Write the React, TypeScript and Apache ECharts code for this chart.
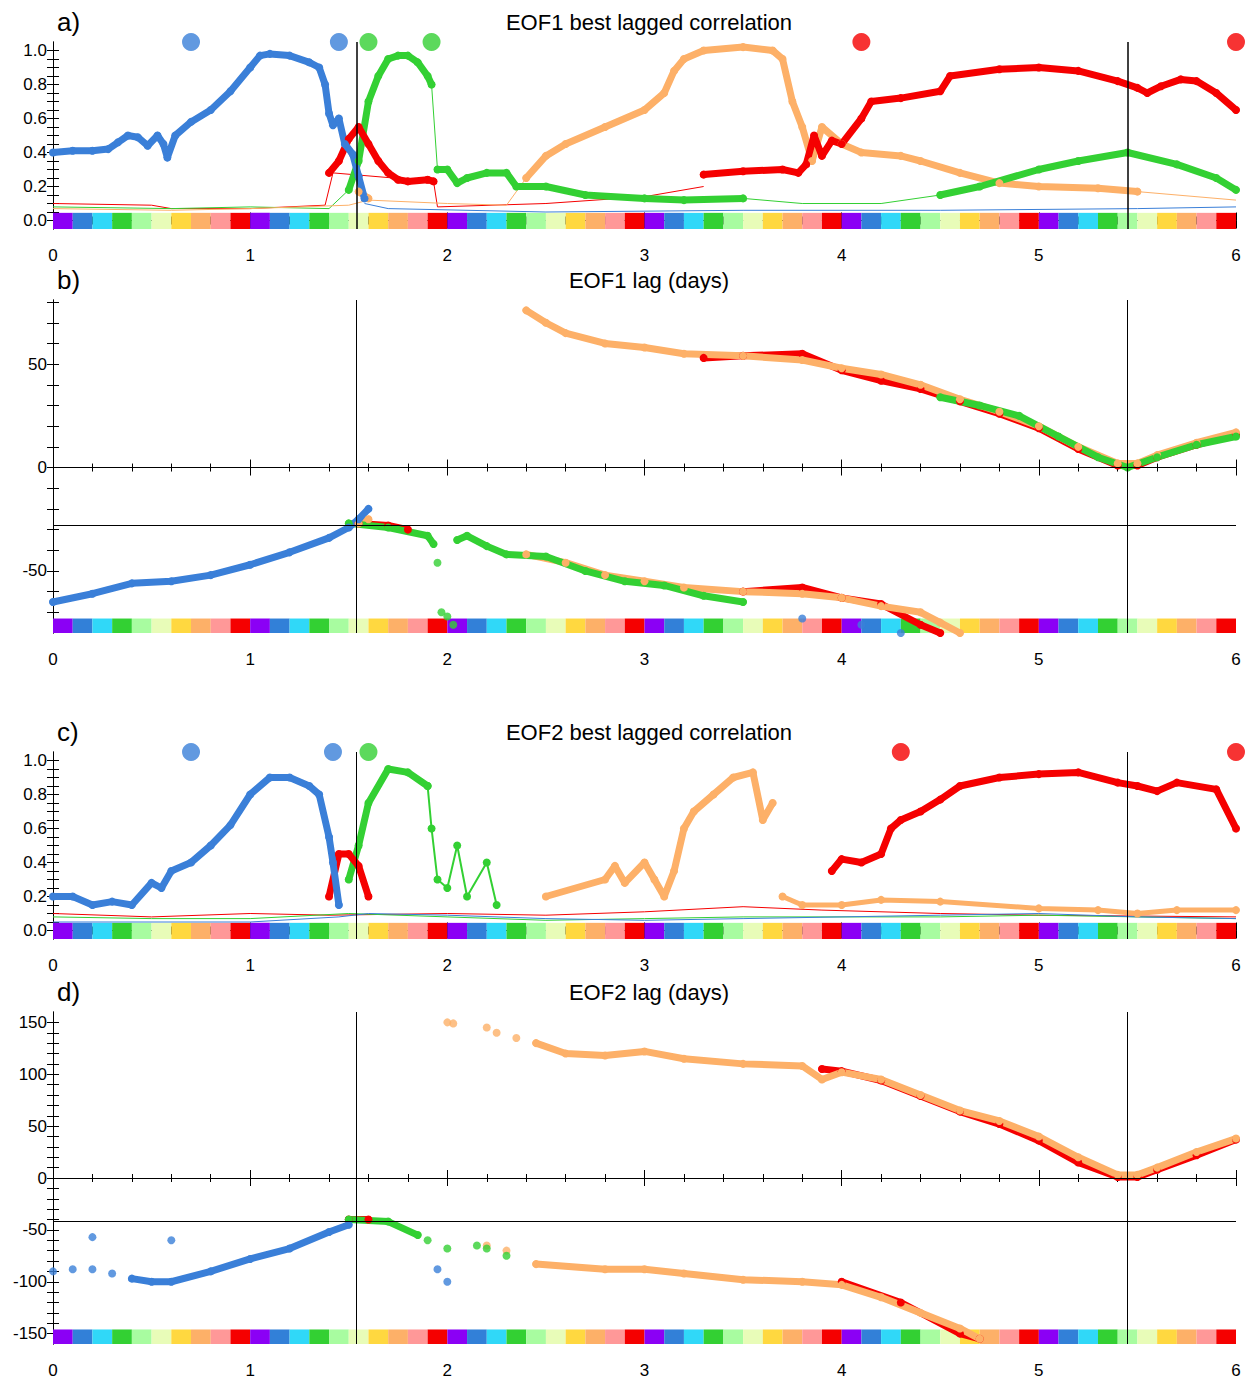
import React, { useEffect, useRef } from 'react';
import * as echarts from 'echarts';

const BLUE = '#3a7fd8';
const RED = '#f50000';
const GREEN = '#33d033';
const ORANGE = '#fdb068';
const STRIP = ['#8b00f5', '#3280d8', '#30d8f8', '#33d033', '#a8fca0', '#e8fcb8', '#ffd840', '#fdb068', '#ff9898', '#f50000'];

// ---- panel a: EOF1 best lagged correlation
const aBlue = [[0,0.40],[0.1,0.41],[0.2,0.41],[0.28,0.42],[0.33,0.46],[0.38,0.5],[0.43,0.49],[0.48,0.44],[0.53,0.5],[0.56,0.45],[0.58,0.37],[0.62,0.5],[0.7,0.58],[0.8,0.65],[0.9,0.76],[1.0,0.9],[1.05,0.97],[1.1,0.98],[1.2,0.97],[1.3,0.93],[1.35,0.9],[1.38,0.8],[1.4,0.63],[1.42,0.56],[1.45,0.6],[1.48,0.45],[1.52,0.39],[1.55,0.26],[1.58,0.13]];
const aBlueTop = [[0.7,1.05],[1.45,1.05]];
const aRed1 = [[1.4,0.28],[1.45,0.35],[1.5,0.48],[1.55,0.55],[1.6,0.45],[1.65,0.35],[1.7,0.28],[1.75,0.24],[1.8,0.23],[1.9,0.24],[1.93,0.23]];
const aRed2 = [[3.3,0.27],[3.5,0.29],[3.7,0.3],[3.78,0.28],[3.82,0.33],[3.86,0.5],[3.9,0.38],[3.95,0.47],[4.0,0.45],[4.1,0.6],[4.15,0.7],[4.3,0.72],[4.5,0.76],[4.55,0.85],[4.8,0.89],[5.0,0.9],[5.2,0.88],[5.4,0.82],[5.5,0.78],[5.55,0.75],[5.62,0.79],[5.72,0.83],[5.8,0.82],[5.9,0.75],[6.0,0.65]];
const aRedTop = [[4.1,1.05],[6.0,1.05]];
const aGreen1 = [[1.5,0.18],[1.55,0.35],[1.6,0.7],[1.65,0.85],[1.7,0.95],[1.75,0.97],[1.8,0.97],[1.85,0.93],[1.9,0.85],[1.92,0.8]];
const aGreen1b = [[1.95,0.3],[2.0,0.3],[2.05,0.22],[2.1,0.25],[2.2,0.28],[2.3,0.28],[2.35,0.2],[2.5,0.2],[2.7,0.15],[3.0,0.13],[3.2,0.12],[3.5,0.13]];
const aGreen2 = [[4.5,0.15],[4.7,0.2],[5.0,0.3],[5.2,0.35],[5.45,0.4],[5.7,0.33],[5.9,0.25],[6.0,0.18]];
const aGreenTop = [[1.6,1.05],[1.92,1.05]];
const aOrange0 = [[1.55,0.17],[1.6,0.13]];
const aOrange = [[2.4,0.25],[2.5,0.38],[2.6,0.45],[2.8,0.55],[3.0,0.65],[3.1,0.75],[3.15,0.88],[3.2,0.95],[3.3,1.0],[3.5,1.02],[3.65,1.0],[3.7,0.95],[3.75,0.7],[3.8,0.55],[3.85,0.35],[3.9,0.55],[4.0,0.45],[4.1,0.4],[4.3,0.38],[4.4,0.35],[4.6,0.28],[4.8,0.22],[5.0,0.2],[5.3,0.19],[5.5,0.17]];
const aRedThin = [[0,0.1],[0.5,0.09],[0.6,0.07],[1.0,0.07],[1.38,0.09],[1.42,0.28],[1.93,0.23],[1.95,0.08],[2.5,0.1],[3.0,0.14],[3.3,0.2]];
const aGreenThin = [[0,0.08],[0.6,0.07],[1.0,0.08],[1.4,0.07],[1.5,0.18]];
const aGreenLink = [[1.92,0.8],[1.95,0.3]];
const aGreenThin2 = [[3.5,0.13],[3.8,0.1],[4.2,0.1],[4.5,0.15]];
const aOrangeThin = [[0,0.07],[0.6,0.06],[1.0,0.07],[1.5,0.09],[1.6,0.12],[2.0,0.1],[2.3,0.09],[2.4,0.25]];
const aOrangeThin2 = [[5.5,0.17],[6.0,0.12]];
const aBlueThin = [[1.58,0.1],[1.7,0.07],[2.5,0.05],[3.5,0.06],[4.5,0.06],[5.5,0.07],[6.0,0.08]];

// ---- panel b: EOF1 lag (days)
const bOrangeUp = [[2.4,76],[2.5,70],[2.6,65],[2.8,60],[3.0,58],[3.2,55],[3.5,54],[3.8,52],[4.0,48],[4.2,45],[4.4,40],[4.6,33],[4.8,27],[5.0,20],[5.2,10],[5.4,2],[5.5,2],[5.6,6],[5.8,12],[6.0,17]];
const bRedUp = [[3.3,53],[3.5,54],[3.8,55],[4.0,47],[4.2,42],[4.4,38],[4.6,32],[4.8,26],[5.0,19],[5.2,9],[5.4,1],[5.5,1],[5.6,5],[5.8,11],[6.0,16]];
const bGreenUp = [[4.5,34],[4.7,30],[4.9,25],[5.1,15],[5.3,5],[5.45,0],[5.6,5],[5.8,11],[6.0,15]];
const bBlue = [[0,-65],[0.2,-61],[0.4,-56],[0.6,-55],[0.8,-52],[1.0,-47],[1.2,-41],[1.4,-34],[1.5,-29],[1.55,-25],[1.6,-20]];
const bGreen1 = [[1.5,-27],[1.7,-29],[1.9,-33],[1.93,-37]];
const bGreen2 = [[2.05,-35],[2.1,-33],[2.2,-38],[2.3,-42],[2.5,-43],[2.7,-50],[2.9,-55],[3.1,-57],[3.3,-62],[3.5,-65]];
const bGreenOdd = [[1.95,-46],[1.97,-70],[2.0,-72],[2.03,-76]];
const bOrange = [[2.4,-42],[2.6,-46],[2.8,-52],[3.0,-55],[3.2,-58],[3.5,-60],[3.8,-61],[4.0,-63],[4.2,-67],[4.4,-70],[4.5,-75],[4.6,-80]];
const bOrangeOdd = [[1.55,-27],[1.6,-25]];
const bRed1 = [[1.55,-27],[1.7,-28],[1.8,-30]];
const bRed2 = [[3.5,-60],[3.8,-58],[4.0,-63],[4.2,-66],[4.4,-76],[4.5,-80]];
const bBlueLow = [[3.8,-73],[4.1,-76],[4.3,-80]];

// ---- panel c: EOF2 best lagged correlation
const cBlue = [[0,0.2],[0.1,0.2],[0.2,0.15],[0.3,0.17],[0.4,0.15],[0.5,0.28],[0.55,0.25],[0.6,0.35],[0.7,0.4],[0.8,0.5],[0.9,0.62],[1.0,0.8],[1.1,0.9],[1.2,0.9],[1.3,0.85],[1.35,0.8],[1.4,0.55],[1.42,0.4],[1.45,0.15]];
const cBlueTop = [[0.7,1.05],[1.42,1.05]];
const cRed1 = [[1.4,0.2],[1.45,0.45],[1.5,0.45],[1.55,0.38],[1.6,0.2]];
const cRed2 = [[3.95,0.35],[4.0,0.42],[4.1,0.4],[4.2,0.45],[4.25,0.6],[4.3,0.65],[4.4,0.7],[4.5,0.77],[4.6,0.85],[4.8,0.9],[5.0,0.92],[5.2,0.93],[5.4,0.87],[5.5,0.85],[5.6,0.82],[5.7,0.87],[5.9,0.83],[6.0,0.6]];
const cRedTop = [[4.3,1.05],[6.0,1.05]];
const cGreen = [[1.5,0.3],[1.55,0.5],[1.6,0.75],[1.7,0.95],[1.8,0.93],[1.9,0.85]];
const cGreenB = [[1.9,0.85],[1.92,0.6],[1.95,0.3],[2.0,0.25],[2.05,0.5],[2.1,0.2],[2.2,0.4],[2.25,0.15]];
const cGreenTop = [[1.6,1.05]];
const cOrange = [[2.5,0.2],[2.8,0.3],[2.85,0.38],[2.9,0.28],[3.0,0.4],[3.05,0.3],[3.1,0.2],[3.15,0.35],[3.2,0.6],[3.25,0.7],[3.35,0.8],[3.45,0.9],[3.55,0.93],[3.6,0.65],[3.65,0.75]];
const cOrangeB = [[3.7,0.2],[3.8,0.15],[4.0,0.15],[4.2,0.18],[4.5,0.17],[5.0,0.13],[5.3,0.12],[5.5,0.1],[5.7,0.12],[6.0,0.12]];
const cRedThin = [[0,0.1],[0.5,0.08],[1.0,0.1],[1.4,0.09],[2.0,0.1],[2.5,0.09],[3.0,0.11],[3.5,0.14],[3.9,0.12],[4.5,0.1],[5.0,0.09],[6.0,0.08]];
const cGreenThin = [[0,0.08],[0.5,0.07],[1.0,0.07],[1.5,0.1],[2.5,0.06],[3.0,0.07],[3.5,0.08],[4.5,0.08],[5.0,0.09],[6.0,0.07]];
const cBlueThin = [[0,0.05],[1.0,0.05],[1.45,0.08],[1.6,0.1],[2.0,0.09],[2.5,0.07],[3.0,0.06],[3.5,0.07],[4.5,0.09],[5.0,0.1],[5.5,0.08],[6.0,0.07]];

// ---- panel d: EOF2 lag (days)
const dOrangeUp0 = [[2.0,150],[2.03,149],[2.2,145],[2.25,140],[2.35,135]];
const dOrangeUp = [[2.45,130],[2.6,120],[2.8,118],[3.0,122],[3.2,115],[3.5,110],[3.8,108],[3.9,95],[4.0,102],[4.2,95],[4.4,80],[4.6,65],[4.8,55],[5.0,40],[5.2,20],[5.4,3],[5.5,3],[5.6,10],[5.8,25],[6.0,38]];
const dRedUp = [[3.9,105],[4.0,103],[4.2,94],[4.4,79],[4.6,64],[4.8,52],[5.0,36],[5.2,15],[5.4,1],[5.5,1],[5.6,8],[5.8,22],[6.0,37]];
const dBlue = [[0.4,-97],[0.5,-100],[0.6,-100],[0.8,-90],[1.0,-78],[1.2,-68],[1.4,-52],[1.5,-45]];
const dBlueOdd = [[0,-90],[0.1,-88],[0.2,-88],[0.3,-92],[0.2,-57],[0.6,-60],[1.95,-88],[2.0,-100]];
const dGreen = [[1.5,-40],[1.7,-42],[1.85,-55]];
const dGreenOdd = [[1.9,-60],[2.0,-68],[2.15,-65],[2.2,-68],[2.3,-75]];
const dOrange = [[2.45,-83],[2.8,-88],[3.0,-88],[3.2,-92],[3.5,-98],[3.8,-100],[4.0,-103],[4.2,-115],[4.4,-130],[4.6,-145],[4.7,-155]];
const dOrangeOdd = [[2.2,-65],[2.3,-70]];
const dRed1 = [[1.5,-40],[1.6,-40]];
const dRed2 = [[4.0,-100],[4.3,-120],[4.6,-150],[4.7,-155]];

const vLines = [1.543, 5.447];
const hLinesB = [0, -28];
const hLinesD = [0, -42];

const titles = ['EOF1 best lagged correlation', 'EOF1 lag (days)', 'EOF2 best lagged correlation', 'EOF2 lag (days)'];
const letters = ['a)', 'b)', 'c)', 'd)'];

const FONT = 'Liberation Sans';
const grids = [
  { top: 42, height: 187 },
  { top: 300, height: 333 },
  { top: 752, height: 187 },
  { top: 1012, height: 332 },
];
const corrTicks = [0, 0.05, 0.1, 0.15, 0.2, 0.25, 0.3, 0.35, 0.4, 0.45, 0.5, 0.55, 0.6, 0.65, 0.7, 0.75, 0.8, 0.85, 0.9, 0.95, 1.0];
const yRanges = [
  { min: -0.05, max: 1.05, labels: [0, 0.2, 0.4, 0.6, 0.8, 1.0], ticks: corrTicks, strip: 0.045, fmt: (v: number) => v.toFixed(1) },
  { min: -80, max: 81, labels: [-50, 0, 50], ticks: [-70, -60, -50, -40, -30, -20, -10, 0, 10, 20, 30, 40, 50, 60, 70, 80], strip: -73, fmt: (v: number) => String(v) },
  { min: -0.05, max: 1.05, labels: [0, 0.2, 0.4, 0.6, 0.8, 1.0], ticks: corrTicks, strip: 0.045, fmt: (v: number) => v.toFixed(1) },
  { min: -160, max: 160, labels: [-150, -100, -50, 0, 50, 100, 150], ticks: [-150, -140, -130, -120, -110, -100, -90, -80, -70, -60, -50, -40, -30, -20, -10, 0, 10, 20, 30, 40, 50, 60, 70, 80, 90, 100, 110, 120, 130, 140, 150], strip: -146, fmt: (v: number) => String(v) },
];

// dense dotted band: round-capped wide line under the dots
const thick = (g: number, data: number[][], color: string, w = 7) => ({
  type: 'line', xAxisIndex: g * 2, yAxisIndex: g * 2, data, symbol: 'circle', symbolSize: 8,
  showSymbol: true, itemStyle: { color }, lineStyle: { color, width: w, cap: 'round', join: 'round' }, z: 3, silent: true,
});
const dots = (g: number, data: number[][], color: string, size = 8) => ({
  type: 'scatter', xAxisIndex: g * 2, yAxisIndex: g * 2, data, symbolSize: size, itemStyle: { color }, z: 3, silent: true,
});
const thin = (g: number, data: number[][], color: string) => ({
  type: 'line', xAxisIndex: g * 2, yAxisIndex: g * 2, data, symbol: 'none', lineStyle: { color, width: 1 }, z: 2, silent: true,
});

const stripSeries = (g: number) => {
  const top = yRanges[g].strip;
  const squares = Array.from({ length: 60 }, (_, i) => [i * 0.1, (i + 1) * 0.1, i % STRIP.length]);
  return {
    type: 'custom', xAxisIndex: g * 2, yAxisIndex: g * 2, data: squares, z: 1, silent: true,
    renderItem: (_p: any, api: any) => {
      const p0 = api.coord([api.value(0), top]);
      const p1 = api.coord([api.value(1), yRanges[g].min]);
      return { type: 'rect', shape: { x: p0[0], y: p0[1], width: p1[0] - p0[0], height: p1[1] - p0[1] }, style: { fill: STRIP[api.value(2)] } };
    },
  };
};

const refLines = (g: number, hs: number[]) => ({
  type: 'line', xAxisIndex: g * 2, yAxisIndex: g * 2, data: [], z: 4, silent: true,
  markLine: {
    silent: true, symbol: 'none', label: { show: false }, animation: false,
    lineStyle: { color: '#000', width: g === 0 ? 1.5 : 1, type: 'solid' },
    data: [...vLines.map(v => ({ xAxis: v })), ...hs.map(h => ({ yAxis: h }))],
  },
});

export default function App() {
  const ref = useRef<HTMLDivElement>(null);
  useEffect(() => {
    if (!ref.current) return;
    const chart = echarts.init(ref.current, null, { renderer: 'svg' });
    const xAxis: any[] = [];
    const yAxis: any[] = [];
    grids.forEach((_, g) => {
      const common = { gridIndex: g, type: 'value', min: 0, max: 6, interval: 1, splitLine: { show: false },
        axisLine: { lineStyle: { color: '#000' } },
        minorTick: { show: true, splitNumber: 5, length: 4, lineStyle: { color: '#000' } } };
      xAxis.push({ ...common, position: 'bottom', axisTick: { inside: true, length: 8, lineStyle: { color: '#000' } },
        axisLabel: { color: '#000', fontSize: 17, fontFamily: FONT, margin: 18 } });
      xAxis.push({ ...common, position: 'top', axisTick: { inside: true, length: 8, lineStyle: { color: '#000' } }, axisLabel: { show: false } });
      const yr = yRanges[g];
      const yc = { gridIndex: g, type: 'value', min: yr.min, max: yr.max, splitLine: { show: false },
        axisLine: { show: true, lineStyle: { color: '#000' } } };
      yAxis.push({ ...yc, position: 'left',
        axisTick: { inside: true, length: 6, customValues: yr.ticks, lineStyle: { color: '#000' } },
        axisLabel: { customValues: yr.labels, formatter: yr.fmt, color: '#000', fontSize: 17, fontFamily: FONT, margin: 6 } });
      yAxis.push({ ...yc, position: 'right',
        axisTick: { inside: true, length: 6, customValues: yr.ticks, lineStyle: { color: '#000' } },
        axisLabel: { show: false } });
    });
    const series: any[] = [
      stripSeries(0), stripSeries(1), stripSeries(2), stripSeries(3),
      // a
      thin(0, aRedThin, RED), thin(0, aGreenThin, GREEN), thin(0, aGreenLink, GREEN), thin(0, aGreenThin2, GREEN),
      thin(0, aOrangeThin, ORANGE), thin(0, aOrangeThin2, ORANGE), thin(0, aBlueThin, BLUE),
      thick(0, aOrange, ORANGE), thick(0, aOrange0, ORANGE), thick(0, aGreen1, GREEN), thick(0, aGreen1b, GREEN), thick(0, aGreen2, GREEN),
      thick(0, aRed1, RED), thick(0, aRed2, RED), thick(0, aBlue, BLUE),
      dots(0, aBlueTop, BLUE, 18), dots(0, aRedTop, RED, 18), dots(0, aGreenTop, GREEN, 18),
      refLines(0, []),
      // b
      thick(1, bRedUp, RED), thick(1, bOrangeUp, ORANGE), thick(1, bGreenUp, GREEN),
      thick(1, bRed1, RED), thick(1, bRed2, RED), thick(1, bOrange, ORANGE), thick(1, bOrangeOdd, ORANGE),
      thick(1, bGreen1, GREEN), thick(1, bGreen2, GREEN), thick(1, bBlue, BLUE),
      dots(1, bGreenOdd, GREEN), dots(1, bBlueLow, BLUE),
      refLines(1, hLinesB),
      // c
      thin(2, cRedThin, RED), thin(2, cGreenThin, GREEN), thin(2, cBlueThin, BLUE),
      thick(2, cOrange, ORANGE), thick(2, cOrangeB, ORANGE, 5), thick(2, cGreen, GREEN), thick(2, cGreenB, GREEN, 2),
      thick(2, cRed1, RED), thick(2, cRed2, RED), thick(2, cBlue, BLUE),
      dots(2, cBlueTop, BLUE, 18), dots(2, cRedTop, RED, 18), dots(2, cGreenTop, GREEN, 18),
      refLines(2, []),
      // d
      thick(3, dRedUp, RED), thick(3, dOrangeUp, ORANGE), dots(3, dOrangeUp0, ORANGE),
      thick(3, dRed2, RED), thick(3, dOrange, ORANGE), dots(3, dOrangeOdd, ORANGE), thick(3, dRed1, RED),
      thick(3, dGreen, GREEN), dots(3, dGreenOdd, GREEN), thick(3, dBlue, BLUE), dots(3, dBlueOdd, BLUE),
      refLines(3, hLinesD),
    ];
    chart.setOption({
      animation: false,
      backgroundColor: '#fff',
      title: grids.flatMap((gr, g) => [
        { text: titles[g], left: 644, textAlign: 'center', top: gr.top - 36, textStyle: { fontFamily: FONT, fontSize: 22, fontWeight: 'normal', color: '#000' } },
        { text: letters[g], left: 52, top: gr.top - 38, textStyle: { fontFamily: FONT, fontSize: 26, fontWeight: 'normal', color: '#000' } },
      ]),
      grid: grids.map(gr => ({ left: 53, right: 17, top: gr.top, height: gr.height })),
      xAxis, yAxis, series,
    });
    return () => chart.dispose();
  }, []);
  return <div ref={ref} style={{ position: 'fixed', left: 0, top: 0, width: 1253, height: 1385 }} />;
}
